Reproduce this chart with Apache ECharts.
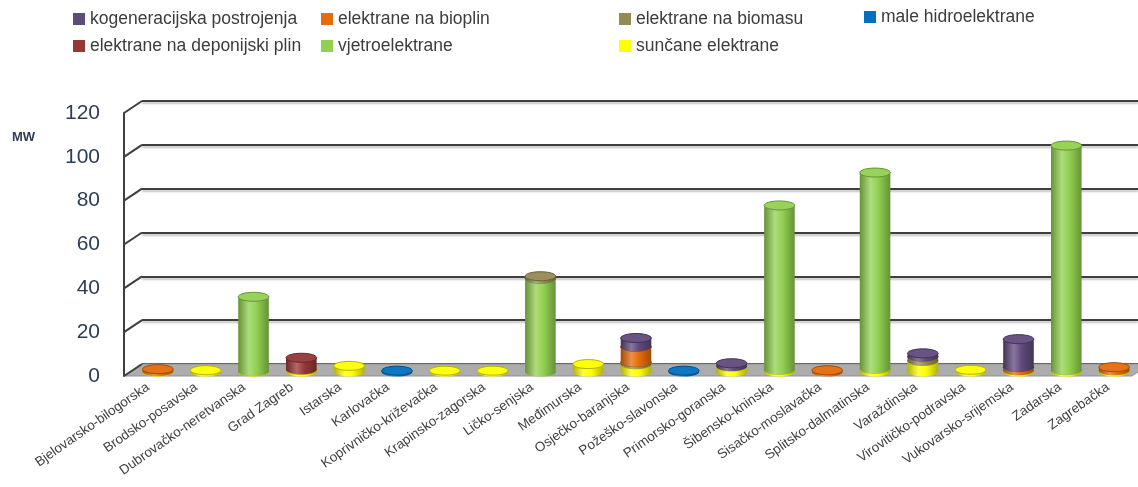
<!DOCTYPE html>
<html>
<head>
<meta charset="utf-8">
<script src="https://cdn.jsdelivr.net/npm/echarts@6/dist/echarts.min.js"></script>
<style>
  html, body { margin: 0; padding: 0; background: #ffffff; }
  #chart { width: 1138px; height: 487px; }
</style>
</head>
<body>
<div id="chart"></div>
<script>
// Installed capacity by county (MW), per plant type
const categories = [
  'Bjelovarsko-bilogorska', 'Brodsko-posavska', 'Dubrovačko-neretvanska', 'Grad Zagreb',
  'Istarska', 'Karlovačka', 'Koprivničko-križevačka', 'Krapinsko-zagorska', 'Ličko-senjska',
  'Međimurska', 'Osječko-baranjska', 'Požeško-slavonska', 'Primorsko-goranska',
  'Šibensko-kninska', 'Sisačko-moslavačka', 'Splitsko-dalmatinska', 'Varaždinska',
  'Virovitičko-podravska', 'Vukovarsko-srijemska', 'Zadarska', 'Zagrebačka'
];
const yTicks = [0, 20, 40, 60, 80, 100, 120];

const suncane       = [0.3, 0.8, 0.3, 1.0, 2.8, 0, 0.6, 0.6, 0, 3.6, 3.5, 0, 2.5, 1.0, 0, 1.5, 5.0, 1.0, 0.7, 0.8, 0.7];
const vjetro        = [0, 0, 34, 0, 0, 0, 0, 0, 42.5, 0, 0, 0, 0, 75, 0, 89.5, 0, 0, 0, 102.5, 0];
const deponijski    = [0, 0, 0, 5.5, 0, 0, 0, 0, 0, 0, 0, 0, 0, 0, 0, 0, 0, 0, 0, 0, 0];
const hidro         = [0, 0, 0, 0, 0, 0.6, 0, 0, 0, 0, 0, 0.6, 0, 0, 0, 0, 0, 0, 0, 0, 0];
const biomasa       = [0, 0, 0, 0, 0, 0, 0, 0, 1.2, 0, 1.0, 0, 0, 0, 0, 0, 2.0, 0, 0, 0, 0];
const bioplin       = [1.0, 0, 0, 0, 0, 0, 0, 0, 0, 0, 7.0, 0, 0, 0, 0.8, 0, 0, 0, 1.5, 0, 1.5];
const kogeneracija  = [0, 0, 0, 0, 0, 0, 0, 0, 0, 0, 4.0, 0, 1.5, 0, 0, 0, 1.5, 0, 12.8, 0, 0];

// Stacking order, bottom to top
const stackDefs = [
  { name: 'sunčane elektrane', values: suncane, color: '#ffff00' },
  { name: 'vjetroelektrane', values: vjetro, color: '#92d050' },
  { name: 'elektrane na deponijski plin', values: deponijski, color: '#953735' },
  { name: 'male hidroelektrane', values: hidro, color: '#0070c0' },
  { name: 'elektrane na biomasu', values: biomasa, color: '#948a54' },
  { name: 'elektrane na bioplin', values: bioplin, color: '#e46c0a' },
  { name: 'kogeneracijska postrojenja', values: kogeneracija, color: '#604a7b' }
];

// depth of the 3D box (front edge -> back wall)
const DEPTH_X = 18, DEPTH_Y = 12;
const AXIS_TEXT = '#2e3d56';
const GRID_LINE = '#3f3f3f';

function shade(hex, amt) {
  const n = parseInt(hex.slice(1), 16);
  let r = (n >> 16) & 255, g = (n >> 8) & 255, b = n & 255;
  const t = amt < 0 ? 0 : 255, p = Math.abs(amt);
  r = Math.round(r + (t - r) * p); g = Math.round(g + (t - g) * p); b = Math.round(b + (t - b) * p);
  return 'rgb(' + r + ',' + g + ',' + b + ')';
}

function cylinderRenderer(color) {
  const dark = shade(color, -0.3), light = shade(color, 0.25);
  return function (params, api) {
    const v = api.value(2);
    if (!v) return null;
    const cat = api.value(0), base = api.value(1);
    const p0 = api.coord([cat, base]);
    const p1 = api.coord([cat, base + v]);
    const w = api.size([1, 0])[0] * 0.64;
    const rx = w / 2, ry = 4.5, cx = p0[0];
    const body = new echarts.graphic.LinearGradient(0, 0, 1, 0, [
      { offset: 0, color: dark },
      { offset: 0.35, color: light },
      { offset: 0.6, color: color },
      { offset: 1, color: dark }
    ]);
    return {
      type: 'group',
      children: [
        { type: 'ellipse', shape: { cx: cx, cy: p0[1], rx: rx, ry: ry }, style: { fill: body } },
        { type: 'rect', shape: { x: cx - rx, y: p1[1], width: w, height: p0[1] - p1[1] }, style: { fill: body } },
        { type: 'ellipse', shape: { cx: cx, cy: p1[1], rx: rx, ry: ry },
          style: { fill: shade(color, 0.05), stroke: dark, lineWidth: 1 } }
      ]
    };
  };
}

const running = categories.map(() => 0);
const barSeries = stackDefs.map(def => {
  const data = def.values.map((v, i) => {
    const item = [i, running[i], v];
    running[i] += v;
    return item;
  });
  return {
    name: def.name,
    type: 'custom',
    xAxisIndex: 1,
    yAxisIndex: 1,
    z: 4,
    itemStyle: { color: def.color },
    encode: { x: 0, y: 2 },
    renderItem: cylinderRenderer(def.color),
    data: data
  };
});

// floor of the 3D box
const floorSeries = {
  type: 'custom',
  xAxisIndex: 2,
  yAxisIndex: 2,
  z: 1,
  silent: true,
  encode: { x: 0, y: 1 },
  data: [[0, 0]],
  renderItem: function (params, api) {
    const cs = params.coordSys;
    const y0 = api.coord([0, 0])[1];
    return {
      type: 'polygon',
      shape: { points: [
        [cs.x, y0], [cs.x + DEPTH_X, y0 - DEPTH_Y],
        [cs.x + cs.width + DEPTH_X, y0 - DEPTH_Y], [cs.x + cs.width, y0]
      ] },
      style: { fill: '#acacac', stroke: '#939393', lineWidth: 1 }
    };
  }
};

// side-wall connectors from the front axis to the back-wall gridlines
const wallSeries = {
  type: 'custom',
  xAxisIndex: 2,
  yAxisIndex: 2,
  z: 2,
  silent: true,
  encode: { x: 0, y: 1 },
  data: yTicks.map(t => [0, t]),
  renderItem: function (params, api) {
    const cs = params.coordSys;
    const y = api.coord([0, api.value(1)])[1];
    return {
      type: 'line',
      shape: { x1: cs.x, y1: y, x2: cs.x + DEPTH_X, y2: y - DEPTH_Y },
      style: { stroke: GRID_LINE, lineWidth: 2 }
    };
  }
};

const legendCommon = {
  orient: 'vertical',
  icon: 'rect',
  itemWidth: 12,
  itemHeight: 12,
  itemGap: 9,
  padding: 0,
  selectedMode: false,
  textStyle: { fontFamily: 'Liberation Sans', fontSize: 17.5, color: '#3c3c3c', lineHeight: 18 }
};

const option = {
  animation: false,
  backgroundColor: '#ffffff',
  title: {
    text: 'MW', left: 12, top: 131, padding: 0,
    textStyle: { fontFamily: 'Liberation Sans', fontSize: 13, fontWeight: 'bold', color: AXIS_TEXT }
  },
  legend: [
    Object.assign({}, legendCommon, { left: 73, top: 10, data: ['kogeneracijska postrojenja', 'elektrane na deponijski plin'] }),
    Object.assign({}, legendCommon, { left: 321, top: 10, data: ['elektrane na bioplin', 'vjetroelektrane'] }),
    Object.assign({}, legendCommon, { left: 619, top: 10, data: ['elektrane na biomasu', 'sunčane elektrane'] }),
    Object.assign({}, legendCommon, { left: 864, top: 8, data: ['male hidroelektrane'] })
  ],
  grid: [
    // back wall
    { left: 142, right: 0, top: 101, bottom: 123 },
    // plane of the cylinders
    { left: 134, width: 1008, top: 109, bottom: 115 },
    // front edge
    { left: 124, width: 1008, top: 113, bottom: 111 }
  ],
  xAxis: [
    { gridIndex: 0, type: 'category', data: categories, show: false },
    { gridIndex: 1, type: 'category', data: categories, show: false },
    {
      gridIndex: 2, type: 'category', data: categories,
      axisLine: { show: false }, axisTick: { show: false },
      axisLabel: { interval: 0, rotate: 35, margin: 10, fontFamily: 'Liberation Sans', fontSize: 13.5, color: '#404040' }
    }
  ],
  yAxis: [
    {
      gridIndex: 0, type: 'value', min: 0, max: 120, interval: 20,
      axisLine: { show: false }, axisTick: { show: false }, axisLabel: { show: false },
      splitLine: { show: true, lineStyle: { color: GRID_LINE, width: 2, shadowColor: 'rgba(0,0,0,0.25)', shadowBlur: 2, shadowOffsetY: 2 } }
    },
    { gridIndex: 1, type: 'value', min: 0, max: 120, interval: 20, show: false },
    {
      gridIndex: 2, type: 'value', min: 0, max: 120, interval: 20,
      axisLine: { show: true, lineStyle: { color: GRID_LINE, width: 2 } },
      axisTick: { show: false },
      splitLine: { show: false },
      axisLabel: { margin: 24, fontFamily: 'Liberation Sans', fontSize: 21, color: AXIS_TEXT }
    }
  ],
  series: [floorSeries, wallSeries].concat(barSeries)
};

const chart = echarts.init(document.getElementById('chart'), null, { renderer: 'canvas' });
chart.setOption(option);
</script>
</body>
</html>
